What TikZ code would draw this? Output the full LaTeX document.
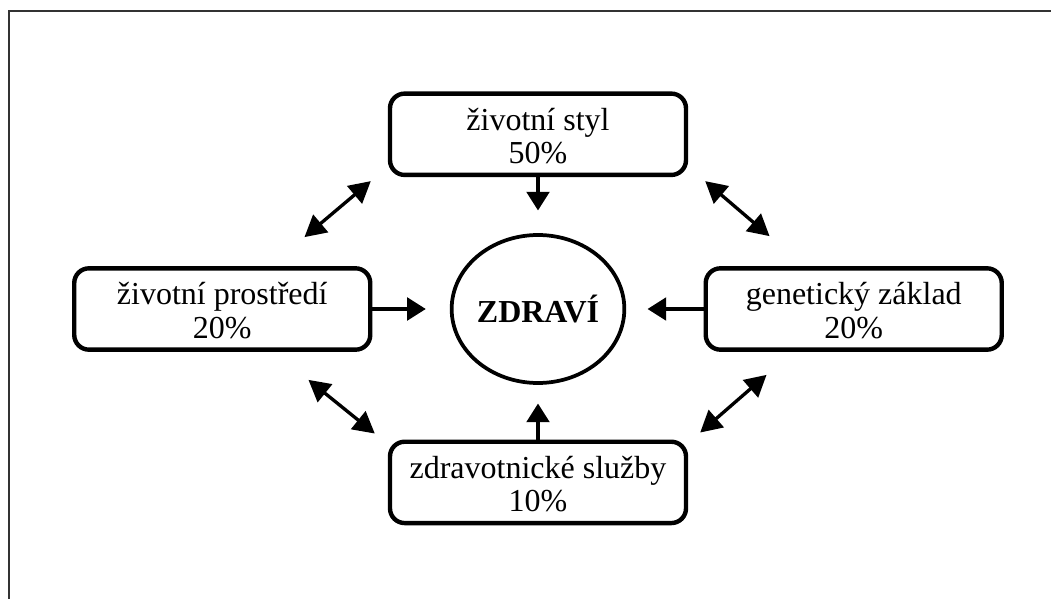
\documentclass[tikz,border=0pt]{standalone}
\usepackage{fontspec}
\setmainfont{Liberation Serif}
\usetikzlibrary{arrows.meta}
\usetikzlibrary{positioning}
\usetikzlibrary{shapes.geometric}
\usetikzlibrary{calc}

\tikzset{
  factor/.style={draw, line width=3.3pt, rounded corners=11pt, minimum width=222pt,
    minimum height=61pt, inner ysep=0pt, text height=52pt, text depth=8pt,
    align=center, font=\fontsize{24}{25}\selectfont},
  health/.style={draw, ellipse, line width=2.8pt, minimum width=127pt,
    minimum height=111pt, inner sep=0pt, font=\fontsize{24}{24}\selectfont\bfseries},
  push/.style={line width=2.5pt, -{Triangle[length=14pt,width=17pt]}},
  mutual/.style={line width=2.5pt,
    {Triangle[length=16pt,width=17pt]}-{Triangle[length=16pt,width=17pt]}},
}

\begin{document}
\begin{tikzpicture}[x=0.75pt,y=-0.75pt]
      \useasboundingbox (0,0) rectangle (1051,599);
      \draw[line width=1.5pt, black!80] (9,599) -- (9,11) -- (1051,11);

      \node[health] (zdravi) at (538,309) {ZDRAVÍ};
      \node[factor, above=42pt of zdravi] (styl) {životní styl\\50\%};
      \node[factor, left=58pt of zdravi] (prostredi) {životní prostředí\\20\%};
      \node[factor, right=58pt of zdravi] (geny) {genetický základ\\20\%};
      \node[factor, below=41pt of zdravi] (sluzby) {zdravotnické služby\\10\%};

      % influences on health
      \draw[push, shorten >=17pt] (styl) -- (zdravi);
      \draw[push, shorten >=18pt] (prostredi) -- (zdravi);
      \draw[push, shorten >=16pt] (geny) -- (zdravi);
      \draw[push, shorten >=14pt] (sluzby) -- (zdravi);

      % mutual links between the factors
      \coordinate (tl1) at ($(styl.south west)+(-17,4)$);
      \coordinate (tl2) at ($(prostredi.north east)+(-68,-29)$);
      \coordinate (tr1) at ($(styl.south east)+(17,4)$);
      \coordinate (tr2) at ($(geny.north west)+(66,-30)$);
      \coordinate (bl1) at ($(prostredi.south east)+(-64,28)$);
      \coordinate (bl2) at ($(sluzby.north west)+(-13,-6)$);
      \coordinate (br1) at ($(sluzby.north east)+(12,-7)$);
      \coordinate (br2) at ($(geny.south west)+(63,23)$);

      \draw[mutual] (tl1) -- (tl2);
      \draw[mutual] (tr1) -- (tr2);
      \draw[mutual] (bl1) -- (bl2);
      \draw[mutual] (br1) -- (br2);
\end{tikzpicture}
\end{document}
